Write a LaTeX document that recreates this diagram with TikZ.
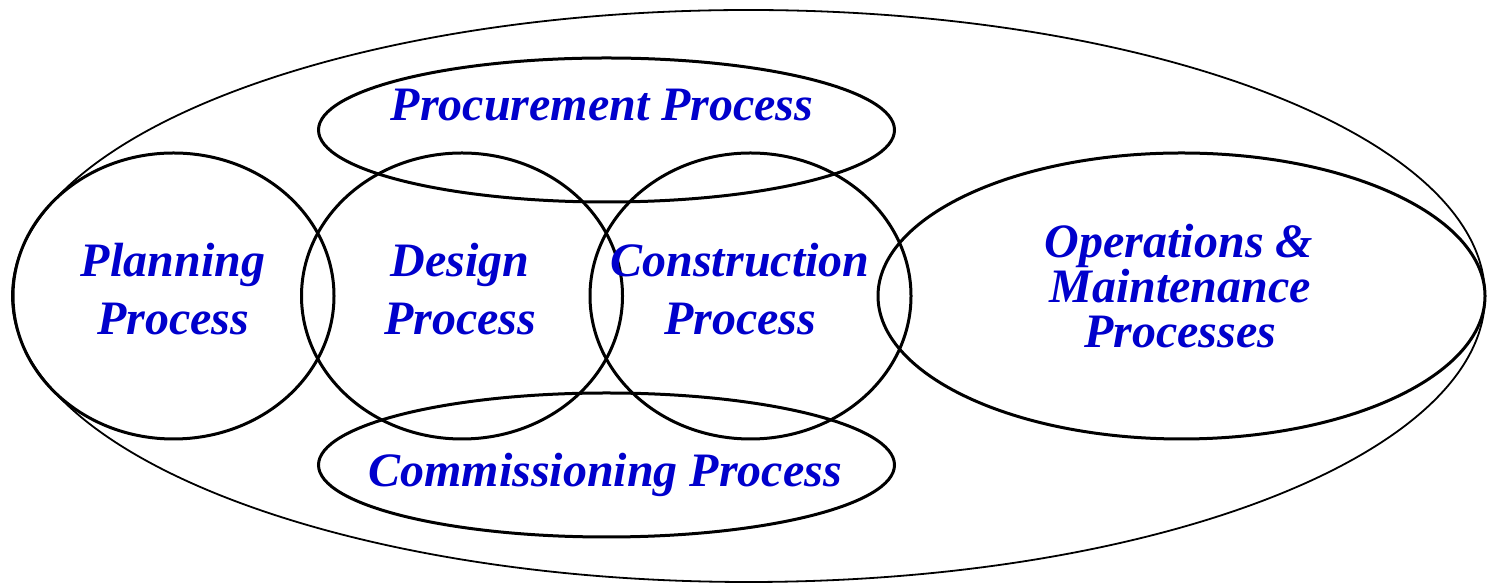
\documentclass[tikz,border=0pt]{standalone}
\usepackage{fontspec}
\setmainfont{Liberation Serif}
\definecolor{procblue}{RGB}{0,0,204}
\begin{document}
\begin{tikzpicture}[x=1pt,y=1pt,
  inner/.style={draw=black,line width=3pt},
  outer/.style={draw=black,line width=1.8pt},
  lbl/.style={anchor=base,inner sep=0pt,text=procblue,font=\fontsize{48}{58}\selectfont\bfseries\itshape}]
\useasboundingbox (0,0) rectangle (1488,585);
% y_tikz = 585 - y_px
\draw[outer] (748.5,289) ellipse [x radius=736.5,y radius=286];
\draw[inner] (173.5,289) ellipse [x radius=160.5,y radius=143];
\draw[inner] (462,289) ellipse [x radius=160.5,y radius=143];
\draw[inner] (750.5,289) ellipse [x radius=160.5,y radius=143];
\draw[inner] (1181.5,289) ellipse [x radius=303.5,y radius=143];
\draw[inner] (606.5,455) ellipse [x radius=288,y radius=72];
\draw[inner] (606.5,120) ellipse [x radius=288,y radius=72];
\node[lbl] (proc) at (602,464) {Procurement Process};
\node[lbl] (plan1) at (173,308) {Planning};
\node[lbl] (plan2) at (173,250) {Process};
\node[lbl] (des1) at (460,308) {Design};
\node[lbl] (des2) at (460,250) {Process};
\node[lbl] (con1) at (740,308) {Construction};
\node[lbl] (con2) at (740,250) {Process};
\node[lbl] (om1) at (1179,327) {Operations \&};
\node[lbl] (om2) at (1180,282) {Maintenance};
\node[lbl] (om3) at (1180,237) {Processes};
\node[lbl] (comm) at (605,98) {Commissioning Process};
\end{tikzpicture}
\end{document}
